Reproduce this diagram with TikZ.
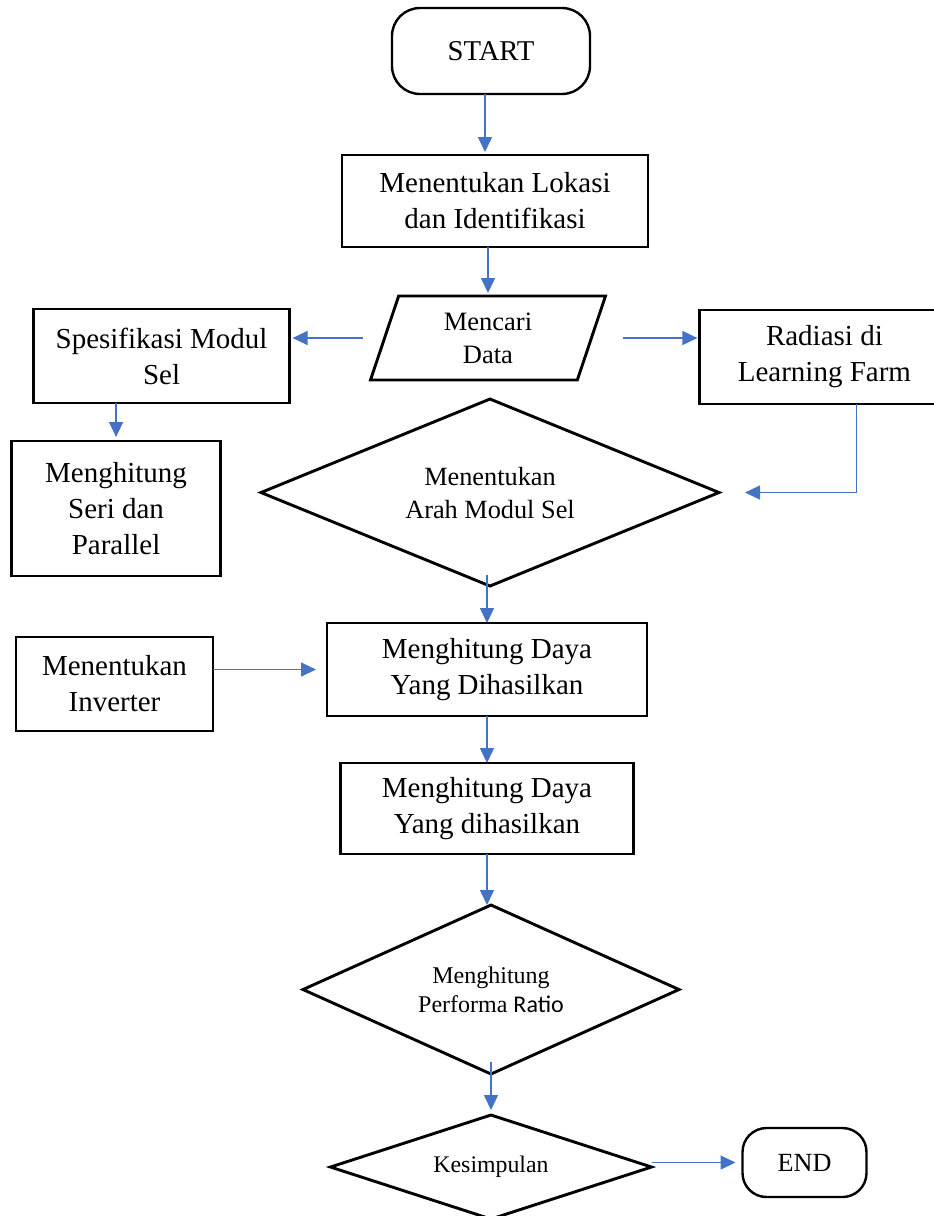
\documentclass[tikz,border=0pt]{standalone}
\usepackage{fontspec}
\setmainfont{Liberation Serif}
\newfontfamily\ratiofont{Carlito}
\usetikzlibrary{arrows.meta,positioning,shapes.geometric}
\definecolor{flowblue}{RGB}{68,114,196}
\tikzstyle{process}=[
	rectangle,
	draw=black,
	line width=2.9pt,
	outer sep=0pt,
	inner sep=2pt,
	align=center,
	font=\fontsize{29}{36}\selectfont
]
\tikzstyle{terminal}=[
	rectangle,
	rounded corners=28pt,
	draw=black,
	line width=2.4pt,
	outer sep=0pt,
	align=center
]
\tikzstyle{io}=[
	trapezium,
	trapezium left angle=61,
	trapezium right angle=119,
	trapezium stretches body,
	draw=black,
	line width=2.9pt,
	outer sep=0pt,
	inner sep=0pt,
	align=center,
	font=\fontsize{26.5}{33}\selectfont
]
\tikzstyle{decision}=[
	diamond,
	draw=black,
	line width=2.9pt,
	outer sep=0pt,
	inner sep=0pt,
	align=center
]
\tikzstyle{flow}=[
	-{Triangle[length=15pt,width=14pt]},
	draw=flowblue,
	line width=1.4pt
]

\begin{document}
\begin{tikzpicture}
\useasboundingbox (0,0) rectangle (934pt,-1216pt);
% main column
\node [terminal, minimum width=198pt, minimum height=86pt, font=\fontsize{28.7}{34}\selectfont] (start) at (491pt,-51pt) {START};
\node [process, minimum width=306pt, minimum height=92pt] (lokasi) [below=61pt of start, xshift=4pt] {Menentukan Lokasi\\dan Identifikasi};
\node [io, minimum width=235pt, minimum height=84pt] (data) [below=49pt of lokasi, xshift=-7pt] {Mencari\\Data};
\node [decision, aspect=2.45, minimum width=458pt, minimum height=187pt, font=\fontsize{26.3}{33}\selectfont] (arah) [below=19pt of data, xshift=2pt] {Menentukan\\Arah Modul Sel};
\node [process, minimum width=320pt, minimum height=93pt] (daya1) [below=37pt of arah, xshift=-3pt] {Menghitung Daya\\Yang Dihasilkan};
\node [process, minimum width=293pt, minimum height=91pt] (daya2) [below=47pt of daya1] {Menghitung Daya\\Yang dihasilkan};
\node [decision, aspect=2.22, minimum width=376pt, minimum height=169pt, font=\fontsize{24}{29}\selectfont] (ratio) [below=51pt of daya2, xshift=4pt] {Menghitung\\Performa {\ratiofont Ratio}};
\node [decision, aspect=3.09, minimum width=321pt, minimum height=104pt, font=\fontsize{23.8}{29}\selectfont] (kesimpulan) [below=41pt of ratio] {Kesimpulan};
\node [terminal, rounded corners=24pt, minimum width=124pt, minimum height=69pt, font=\fontsize{26.2}{32}\selectfont] (end) [right=91pt of kesimpulan, yshift=4.5pt] {END};
% side boxes
\node [process, minimum width=256pt, minimum height=94pt] (spek) [left=95pt of data, yshift=-18pt] {Spesifikasi Modul\\Sel};
\node [process, minimum width=250pt, minimum height=94pt] (radiasi) [right=108pt of data, yshift=-19pt] {Radiasi di\\Learning Farm};
\node [process, minimum width=209pt, minimum height=135pt] (seri) [below=38pt of spek, xshift=-45.5pt] {Menghitung\\Seri dan\\Parallel};
\node [process, minimum width=197pt, minimum height=94pt] (inverter) [left=114pt of daya1, yshift=-14.5pt] {Menentukan\\Inverter};
% arrows
\draw [flow, shorten >=3pt] ([xshift=-6pt]start.south) -- ([xshift=-6pt]start.south |- lokasi.north);
\draw [flow, shorten >=3pt] (lokasi.south -| data.north) -- (data.north);
\draw [flow, shorten >=3pt] ([xshift=-22pt]data.west) -- (spek.east |- data.west);
\draw [flow, shorten >=2pt] ([xshift=32pt]data.east) -- (radiasi.west |- data.east);
\draw [flow, shorten >=4pt] (seri.north |- spek.south) -- (seri.north);
\draw [flow] ([xshift=32pt]radiasi.south) |- ([xshift=26pt]arah.east);
\draw [flow] ([yshift=11pt]arah.south -| daya1.north) -- (daya1.north);
\draw [flow, shorten >=11pt] (inverter.east |- daya1.west) -- (daya1.west);
\draw [flow] (daya1) -- (daya2);
\draw [flow] (daya2.south) -- (daya2.south |- ratio.north);
\draw [flow, shorten >=5pt] ([yshift=12pt]ratio.south) -- (kesimpulan.north);
\draw [flow, shorten >=7pt] (kesimpulan.east |- end.west) -- (end.west);
\end{tikzpicture}
\end{document}
